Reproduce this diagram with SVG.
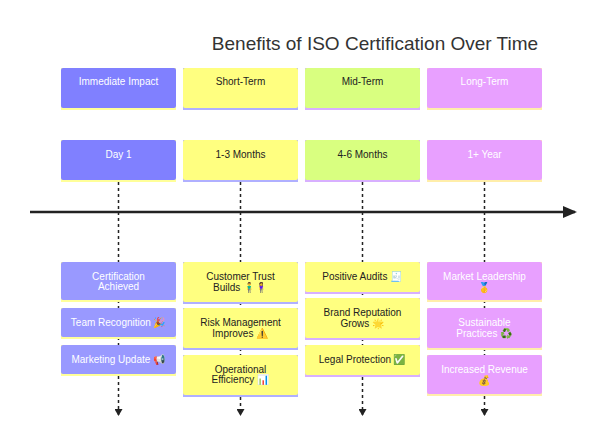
<svg xmlns="http://www.w3.org/2000/svg" width="602" height="448" viewBox="0 0 602 448">
<style>
text{font-family:"Liberation Sans",Arial,"Noto Color Emoji",sans-serif;font-size:10px;text-anchor:middle}
.w{fill:#fff}.k{fill:#222}
.p{fill:#8080ff}.pl{fill:#9999ff}.y{fill:#ffff80}.g{fill:#d9ff80}.v{fill:#e8a0ff}
.pb{fill:#ffff99}.yb{fill:#b0b0ff}.vb{fill:#ffeeaa}.gb{fill:#d8b0ff}
.d{stroke:#222;stroke-width:1.5;stroke-dasharray:3,3;fill:none}
</style>
<defs><marker id="a" markerWidth="8" markerHeight="8" refX="6" refY="4" orient="auto" markerUnits="userSpaceOnUse"><path d="M0,0L7,4L0,8z" fill="#222"/></marker>
<marker id="b" markerWidth="14" markerHeight="12" refX="12" refY="6" orient="auto" markerUnits="userSpaceOnUse"><path d="M0,0L14,6L0,12z" fill="#222"/></marker></defs>
<rect width="602" height="448" fill="#fff"/>
<text x="375" y="50" style="font-size:19px;fill:#333">Benefits of ISO Certification Over Time</text>
<g id="connectors">
<line x1="30" y1="212" x2="575" y2="212" stroke="#222" stroke-width="2.5" marker-end="url(#b)"/>
<path class="d" d="M118.5 182V262M118.5 300V308M118.5 337V345M118.5 376V415" marker-end="url(#a)"/>
<path class="d" d="M240.5 182V262M240.5 302V308M240.5 348V355M240.5 397V415" marker-end="url(#a)"/>
<path class="d" d="M362.5 182V262M362.5 292V298M362.5 338V345M362.5 377V415" marker-end="url(#a)"/>
<path class="d" d="M484.5 182V262M484.5 300V308M484.5 348V355M484.5 396V415" marker-end="url(#a)"/>
</g>
<g id="h1"><rect x="61" y="68" width="115" height="42" class="pb"/><rect x="61" y="68" width="115" height="40" rx="2" class="p"/><text x="118.5" y="85" class="w">Immediate Impact</text></g>
<g id="h2"><rect x="183" y="68" width="115" height="42" class="yb"/><rect x="183" y="68" width="115" height="40" rx="2" class="y"/><text x="240.5" y="85" class="k">Short-Term</text></g>
<g id="h3"><rect x="305" y="68" width="115" height="42" class="gb"/><rect x="305" y="68" width="115" height="40" rx="2" class="g"/><text x="362.5" y="85" class="k">Mid-Term</text></g>
<g id="h4"><rect x="427" y="68" width="115" height="42" class="vb"/><rect x="427" y="68" width="115" height="40" rx="2" class="v"/><text x="484.5" y="85" class="w">Long-Term</text></g>
<g id="t1"><rect x="61" y="140" width="115" height="42" class="pb"/><rect x="61" y="140" width="115" height="40" rx="2" class="p"/><text x="118.5" y="158" class="w">Day 1</text></g>
<g id="t2"><rect x="183" y="140" width="115" height="42" class="yb"/><rect x="183" y="140" width="115" height="40" rx="2" class="y"/><text x="240.5" y="158" class="k">1-3 Months</text></g>
<g id="t3"><rect x="305" y="140" width="115" height="42" class="gb"/><rect x="305" y="140" width="115" height="40" rx="2" class="g"/><text x="362.5" y="158" class="k">4-6 Months</text></g>
<g id="t4"><rect x="427" y="140" width="115" height="42" class="vb"/><rect x="427" y="140" width="115" height="40" rx="2" class="v"/><text x="484.5" y="158" class="w">1+ Year</text></g>
<g id="e11"><rect x="61" y="262" width="115" height="40" class="pb"/><rect x="61" y="262" width="115" height="38" rx="2" class="pl"/><text x="118.5" y="280" class="w">Certification</text><text x="118.5" y="290" class="w">Achieved</text></g>
<g id="e12"><rect x="61" y="308" width="115" height="31" class="pb"/><rect x="61" y="308" width="115" height="29" rx="2" class="pl"/><text x="118.5" y="326" class="w">Team Recognition 🎉</text></g>
<g id="e13"><rect x="61" y="345" width="115" height="31" class="pb"/><rect x="61" y="345" width="115" height="29" rx="2" class="pl"/><text x="118.5" y="363" class="w">Marketing Update 📢</text></g>
<g id="e21"><rect x="183" y="262" width="115" height="42" class="yb"/><rect x="183" y="262" width="115" height="40" rx="2" class="y"/><text x="240.5" y="280" class="k">Customer Trust</text><text x="240.5" y="291" class="k">Builds 🧍‍♂️🧍‍♀️</text></g>
<g id="e22"><rect x="183" y="308" width="115" height="42" class="yb"/><rect x="183" y="308" width="115" height="40" rx="2" class="y"/><text x="240.5" y="326" class="k">Risk Management</text><text x="240.5" y="337" class="k">Improves ⚠️</text></g>
<g id="e23"><rect x="183" y="355" width="115" height="42" class="yb"/><rect x="183" y="355" width="115" height="40" rx="2" class="y"/><text x="240.5" y="373" class="k">Operational</text><text x="240.5" y="383" class="k">Efficiency 📊</text></g>
<g id="e31"><rect x="305" y="262" width="115" height="32" class="gb"/><rect x="305" y="262" width="115" height="30" rx="2" class="y"/><text x="362.5" y="280" class="k">Positive Audits 🧾</text></g>
<g id="e32"><rect x="305" y="298" width="115" height="42" class="gb"/><rect x="305" y="298" width="115" height="40" rx="2" class="y"/><text x="362.5" y="316" class="k">Brand Reputation</text><text x="362.5" y="327" class="k">Grows 🌟</text></g>
<g id="e33"><rect x="305" y="345" width="115" height="32" class="gb"/><rect x="305" y="345" width="115" height="30" rx="2" class="y"/><text x="362.5" y="363" class="k">Legal Protection ✅</text></g>
<g id="e41"><rect x="427" y="262" width="115" height="40" class="vb"/><rect x="427" y="262" width="115" height="38" rx="2" class="v"/><text x="484.5" y="280" class="w">Market Leadership</text><text x="484.5" y="291" class="w">🥇</text></g>
<g id="e42"><rect x="427" y="308" width="115" height="42" class="vb"/><rect x="427" y="308" width="115" height="40" rx="2" class="v"/><text x="484.5" y="326" class="w">Sustainable</text><text x="484.5" y="337" class="w">Practices ♻️</text></g>
<g id="e43"><rect x="427" y="355" width="115" height="41" class="vb"/><rect x="427" y="355" width="115" height="39" rx="2" class="v"/><text x="484.5" y="373" class="w">Increased Revenue</text><text x="484.5" y="384" class="w">💰</text></g>
</svg>
